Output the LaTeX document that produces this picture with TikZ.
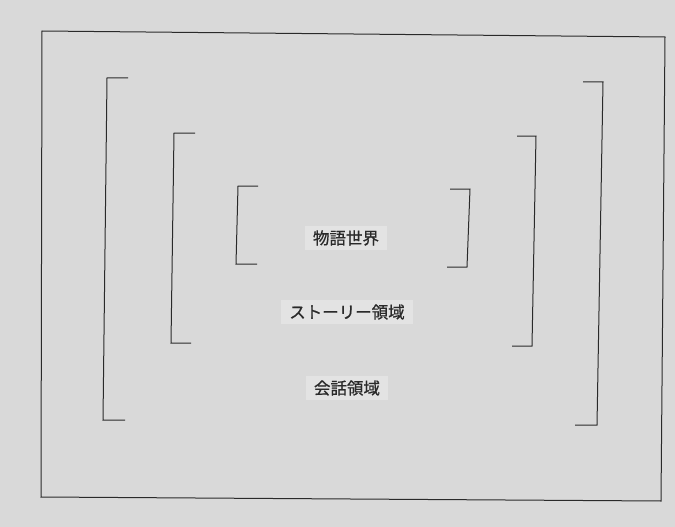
\documentclass[tikz,border=0pt]{standalone}
\usepackage{fontspec}
\newfontfamily\cjk[FakeBold=0.7]{Noto Sans CJK JP}
\definecolor{paper}{HTML}{D9D9D9}
\definecolor{label}{HTML}{E3E3E3}
\definecolor{ink}{HTML}{2A2A2A}
\begin{document}
\begin{tikzpicture}[x=1pt,y=-1pt,
  frame/.style={draw=ink,line width=1pt},
  brk/.style={draw=ink,line width=1pt},
  lbl/.style={fill=label,font=\cjk\fontsize{16.5}{19}\selectfont,text=ink,inner xsep=8pt,inner ysep=4pt}]
\fill[paper] (0,0) rectangle (675,527);
\useasboundingbox (0,0) rectangle (675,527);
% outer frame
\draw[frame] (42,31) -- (665,37) -- (661,501) -- (41,497) -- cycle;
% outer brackets
\draw[brk] (128,78) -- (107,78) -- (103,420) -- (125,420);
\draw[brk] (583,82) -- (603,82) -- (597,425) -- (575,425);
% middle brackets
\draw[brk] (195,133) -- (174,133) -- (171,343) -- (191,343);
\draw[brk] (517,136) -- (536,136) -- (532,346) -- (512,346);
% inner brackets
\draw[brk] (258,186) -- (238,186) -- (236,264) -- (257,264);
\draw[brk] (450,189) -- (470,189) -- (467,267) -- (447,267);
% labels
\node[lbl] (world) at (346,238) {物語世界};
\node[lbl] (story) at (347,312) {ストーリー領域};
\node[lbl] (talk) at (347,388) {会話領域};
\end{tikzpicture}
\end{document}
